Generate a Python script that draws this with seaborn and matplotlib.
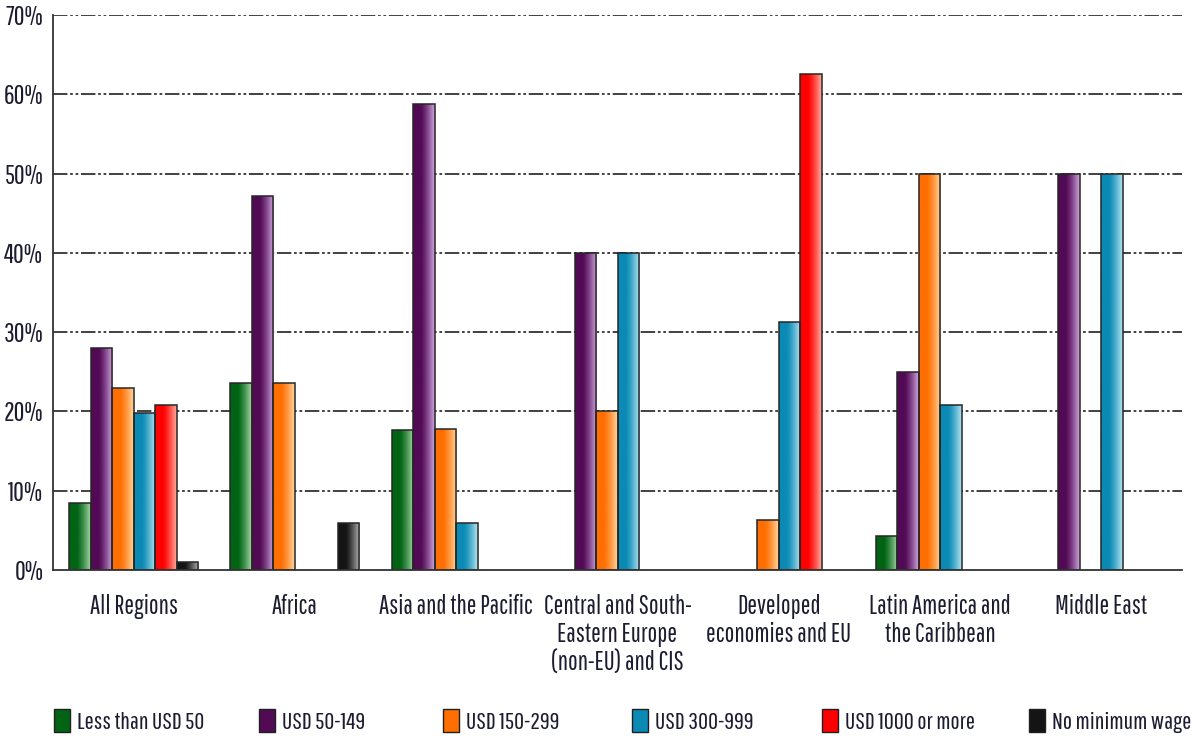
import numpy as np
import pandas as pd
import matplotlib
matplotlib.use("Agg")
import matplotlib.pyplot as plt
import seaborn as sns
from matplotlib.colors import to_rgb
from matplotlib.patches import Patch

regions = ["All Regions", "Africa", "Asia and the Pacific",
           "Central and South-\nEastern Europe\n(non-EU) and CIS",
           "Developed\neconomies and EU", "Latin America and\nthe Caribbean",
           "Middle East"]
bands = ["Less than USD 50", "USD 50-149", "USD 150-299", "USD 300-999",
         "USD 1000 or more", "No minimum wage"]

less_50 = [8.5, 23.6, 17.6, 0, 0, 4.3, 0]
usd_50_149 = [28.0, 47.2, 58.8, 40.0, 0, 25.0, 50.0]
usd_150_299 = [22.9, 23.6, 17.8, 20.0, 6.3, 50.0, 0]
usd_300_999 = [19.8, 0, 5.9, 40.0, 31.3, 20.8, 50.0]
usd_1000 = [20.8, 0, 0, 0, 62.6, 0, 0]
no_min = [1.0, 5.9, 0, 0, 0, 0, 0]

series = [less_50, usd_50_149, usd_150_299, usd_300_999, usd_1000, no_min]
base_colors = ["#006414", "#520a55", "#ff6e00", "#0a8ab4", "#ff0000", "#141414"]
light_colors = ["#a8d8a8", "#d0a8e0", "#ffd8a0", "#b8e6f4", "#ffb0a0", "#b8b8b8"]

rows = []
for b, vals in zip(bands, series):
    for r, v in zip(regions, vals):
        rows.append({"region": r, "band": b, "value": v})
df = pd.DataFrame(rows)

sns.set_style("white")
plt.rcParams['font.family'] = ['Pathway Gothic One', 'Roboto Condensed',
                               'DejaVu Sans']
TXT = "#1c1c30"

fig = plt.figure(figsize=(11.94, 7.38), dpi=100)
ax = fig.add_axes([0.0444, 0.2276, 0.9456, 0.7521])

sns.barplot(data=df, x="region", y="value", hue="band", order=regions,
            hue_order=bands, palette=base_colors, width=0.8,
            edgecolor="#262626", linewidth=1.1, ax=ax, legend=False,
            errorbar=None, saturation=1)

# gradient shading on bars
nb = len(regions)
for i, patch in enumerate(ax.patches):
    h = patch.get_height()
    if h <= 0:
        patch.set_visible(False)
        continue
    si = i // nb
    c0 = np.array(to_rgb(base_colors[si]))
    c1 = np.array(to_rgb(light_colors[si]))
    t = np.linspace(0, 1, 64)
    w = np.clip((t - 0.35) / 0.65, 0, 1) ** 1.3
    grad = (c0[None, :] * (1 - w[:, None]) + c1[None, :] * w[:, None])[None, :, :]
    x0 = patch.get_x()
    x1 = x0 + patch.get_width()
    im = ax.imshow(grad, extent=[x0, x1, 0, h], aspect="auto",
                   zorder=2.4, interpolation="bilinear")
    im.set_clip_path(patch)
    patch.set_facecolor("none")
    patch.set_zorder(2.6)

ax.set_xlim(-0.5, 6.5)
ax.set_ylim(0, 70)
ax.set_yticks(range(0, 71, 10))
ax.set_yticklabels([f"{v}%" for v in range(0, 71, 10)])
ax.set_xlabel("")
ax.set_ylabel("")

ax.grid(False)
for yv in range(10, 71, 10):
    ax.axhline(yv, color="#333333", lw=1.3,
               linestyle=(0, (8, 1.5, 1.5, 1.5, 1.5, 1.5)), zorder=1)

for s in ["top", "right"]:
    ax.spines[s].set_visible(False)
for s in ["left", "bottom"]:
    ax.spines[s].set_color("#333333")
    ax.spines[s].set_linewidth(1.3)
    ax.spines[s].set_zorder(3)

ax.tick_params(axis="y", length=0, labelsize=19, labelcolor=TXT, pad=7)
ax.set_xticks(np.arange(-0.5, 7.0, 1.0), minor=True)
ax.tick_params(axis="x", which="minor", length=13, width=1.3, color="#333333",
               direction="out")
ax.tick_params(axis="x", which="major", length=0, labelsize=18.5,
               labelcolor=TXT, pad=17)
for lbl in ax.get_xticklabels():
    lbl.set_verticalalignment("top")
    lbl.set_linespacing(1.15)

handle_x = [54, 259, 443, 632, 822, 1029]
for c, lab, xp in zip(base_colors, bands, handle_x):
    h = Patch(facecolor=c, edgecolor="#202020", linewidth=1.0)
    fig.legend([h], [lab], loc="center left",
               bbox_to_anchor=(xp / 1194, 1 - 721 / 738),
               frameon=False, fontsize=17.5, handlelength=0.65,
               handleheight=1.1, handletextpad=0.3, labelcolor=TXT,
               borderpad=0, borderaxespad=0)

fig.savefig("out.png", dpi=100)
